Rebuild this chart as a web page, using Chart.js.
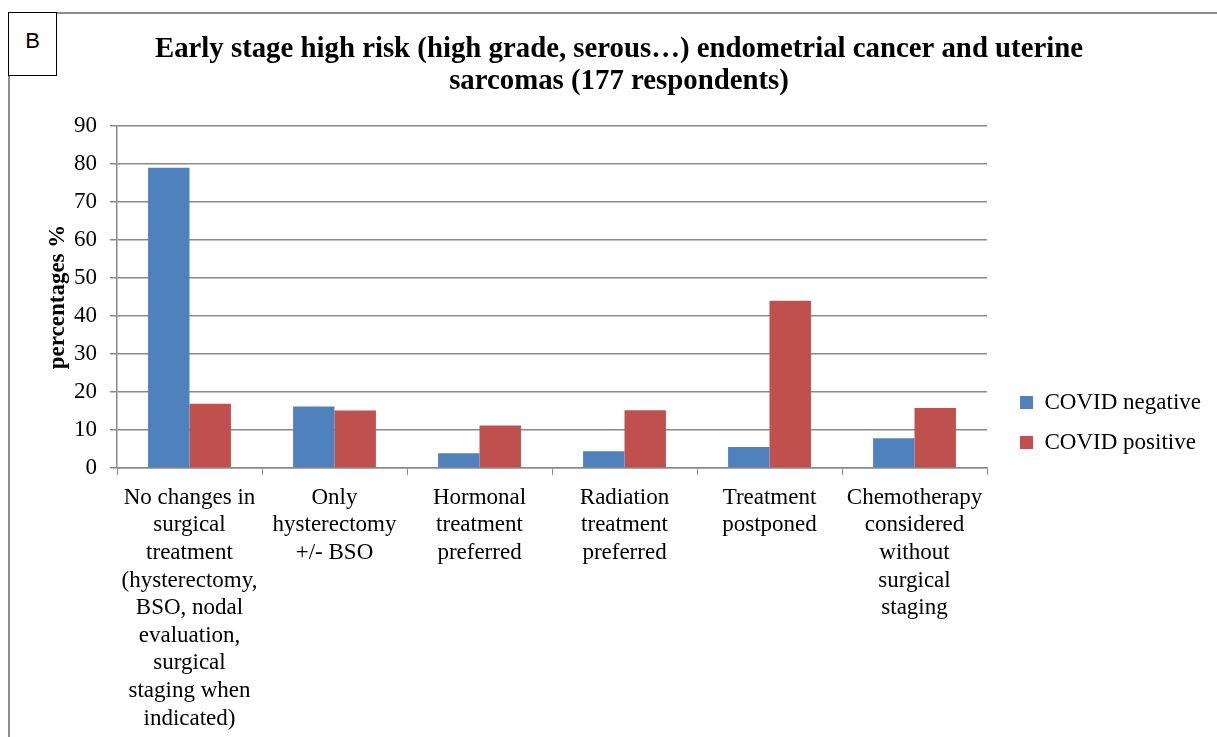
<!DOCTYPE html>
<html>
<head>
<meta charset="utf-8">
<script src="https://cdn.jsdelivr.net/npm/chart.js@4.4.0/dist/chart.umd.min.js"></script>
<style>
  html, body { margin: 0; padding: 0; background: #fff; }
  #wrap { position: relative; width: 1217px; height: 737px; overflow: hidden; }
  #frame { position: absolute; left: 8px; top: 12px; right: -10px; bottom: -10px; border-top: 2px solid #8c8c8c; border-left: 2px solid #8c8c8c; }
  #panel { position: absolute; left: 8px; top: 12px; width: 47px; height: 62px; border: 1.5px solid #000; background: #fff;
           font-family: 'Liberation Sans', Arial, sans-serif; font-size: 22px; text-align: center; line-height: 56px; }
  canvas { position: absolute; left: 0; top: 0; }
</style>
</head>
<body>
<div id="wrap">
  <div id="frame"></div>
  <canvas id="grafik" width="1217" height="737"></canvas>
  <div id="panel">B</div>
</div>
<script>
// kategori (label sumbu x, dipecah per baris)
const categories = [
    ['No changes in', 'surgical', 'treatment', '(hysterectomy,', 'BSO, nodal', 'evaluation,', 'surgical', 'staging when', 'indicated)'],
    ['Only', 'hysterectomy', '+/- BSO'],
    ['Hormonal', 'treatment', 'preferred'],
    ['Radiation', 'treatment', 'preferred'],
    ['Treatment', 'postponed'],
    ['Chemotherapy', 'considered', 'without', 'surgical', 'staging']
];
const seriesNames = ['COVID negative', 'COVID positive'];
const covidNegative = [79, 16.2, 3.9, 4.4, 5.5, 7.8];
const covidPositive = [16.9, 15.1, 11.2, 15.2, 44, 15.8];
const yMin = 0, yMax = 90, yStep = 10;

const serif = "'Liberation Serif', 'Times New Roman', serif";
const gridGrey = '#8a8a8a';

Chart.defaults.font.family = serif;
Chart.defaults.color = '#000';

// geser legenda ke posisi seperti di gambar asli
const legendPos = {
    id: 'legendPos',
    afterLayout(chart) {
        const lg = chart.legend;
        const w = lg.width, h = lg.height;
        lg.left = 1003; lg.right = lg.left + w;
        lg.top = 374; lg.bottom = lg.top + h;
    }
};

const data = {
    labels: categories,
    datasets: [{
        label: seriesNames[0],
        data: covidNegative,
        backgroundColor: '#4f81bd'
    }, {
        label: seriesNames[1],
        data: covidPositive,
        backgroundColor: '#c0504d'
    }]
};

const config = {
    type: 'bar',
    data: data,
    options: {
        responsive: false,
        animation: false,
        devicePixelRatio: 1,
        categoryPercentage: 2 / 3.5,
        barPercentage: 1,
        layout: { padding: { left: 43, right: 22, top: 0, bottom: 0 } },
        plugins: {
            title: {
                display: true,
                text: ['Early stage high risk (high grade, serous\u2026) endometrial cancer and uterine', 'sarcomas (177 respondents)'],
                font: { size: 28.8, weight: 'bold', lineHeight: 1.11 },
                color: '#000',
                padding: { top: 34, bottom: 28 }
            },
            legend: {
                position: 'right',
                align: 'start',
                labels: {
                    font: { size: 23 },
                    color: '#000',
                    boxWidth: 13,
                    boxHeight: 13,
                    padding: 17
                }
            },
            tooltip: { enabled: false }
        },
        scales: {
            x: {
                grid: { offset: true, drawOnChartArea: false, color: gridGrey, tickLength: 7 },
                border: { color: gridGrey, width: 1.5 },
                ticks: { font: { size: 23, lineHeight: 1.2 }, color: '#000', maxRotation: 0, autoSkip: false, padding: 9 },
                afterFit: (axis) => { axis.height = 269; }
            },
            y: {
                min: yMin,
                max: yMax,
                grid: { color: gridGrey, lineWidth: 1.5, tickLength: 7 },
                border: { color: gridGrey, width: 1.5 },
                ticks: { stepSize: yStep, font: { size: 23 }, color: '#000', padding: 13 },
                title: {
                    display: true,
                    text: 'percentages %',
                    font: { size: 23, weight: 'bold', lineHeight: 1.2 },
                    color: '#000',
                    padding: { top: 1, bottom: 0 }
                },
                afterFit: (axis) => { axis.width = 74; }
            }
        }
    },
    plugins: [legendPos]
};

const ctx = document.getElementById('grafik').getContext('2d');
new Chart(ctx, config);
</script>
</body>
</html>
